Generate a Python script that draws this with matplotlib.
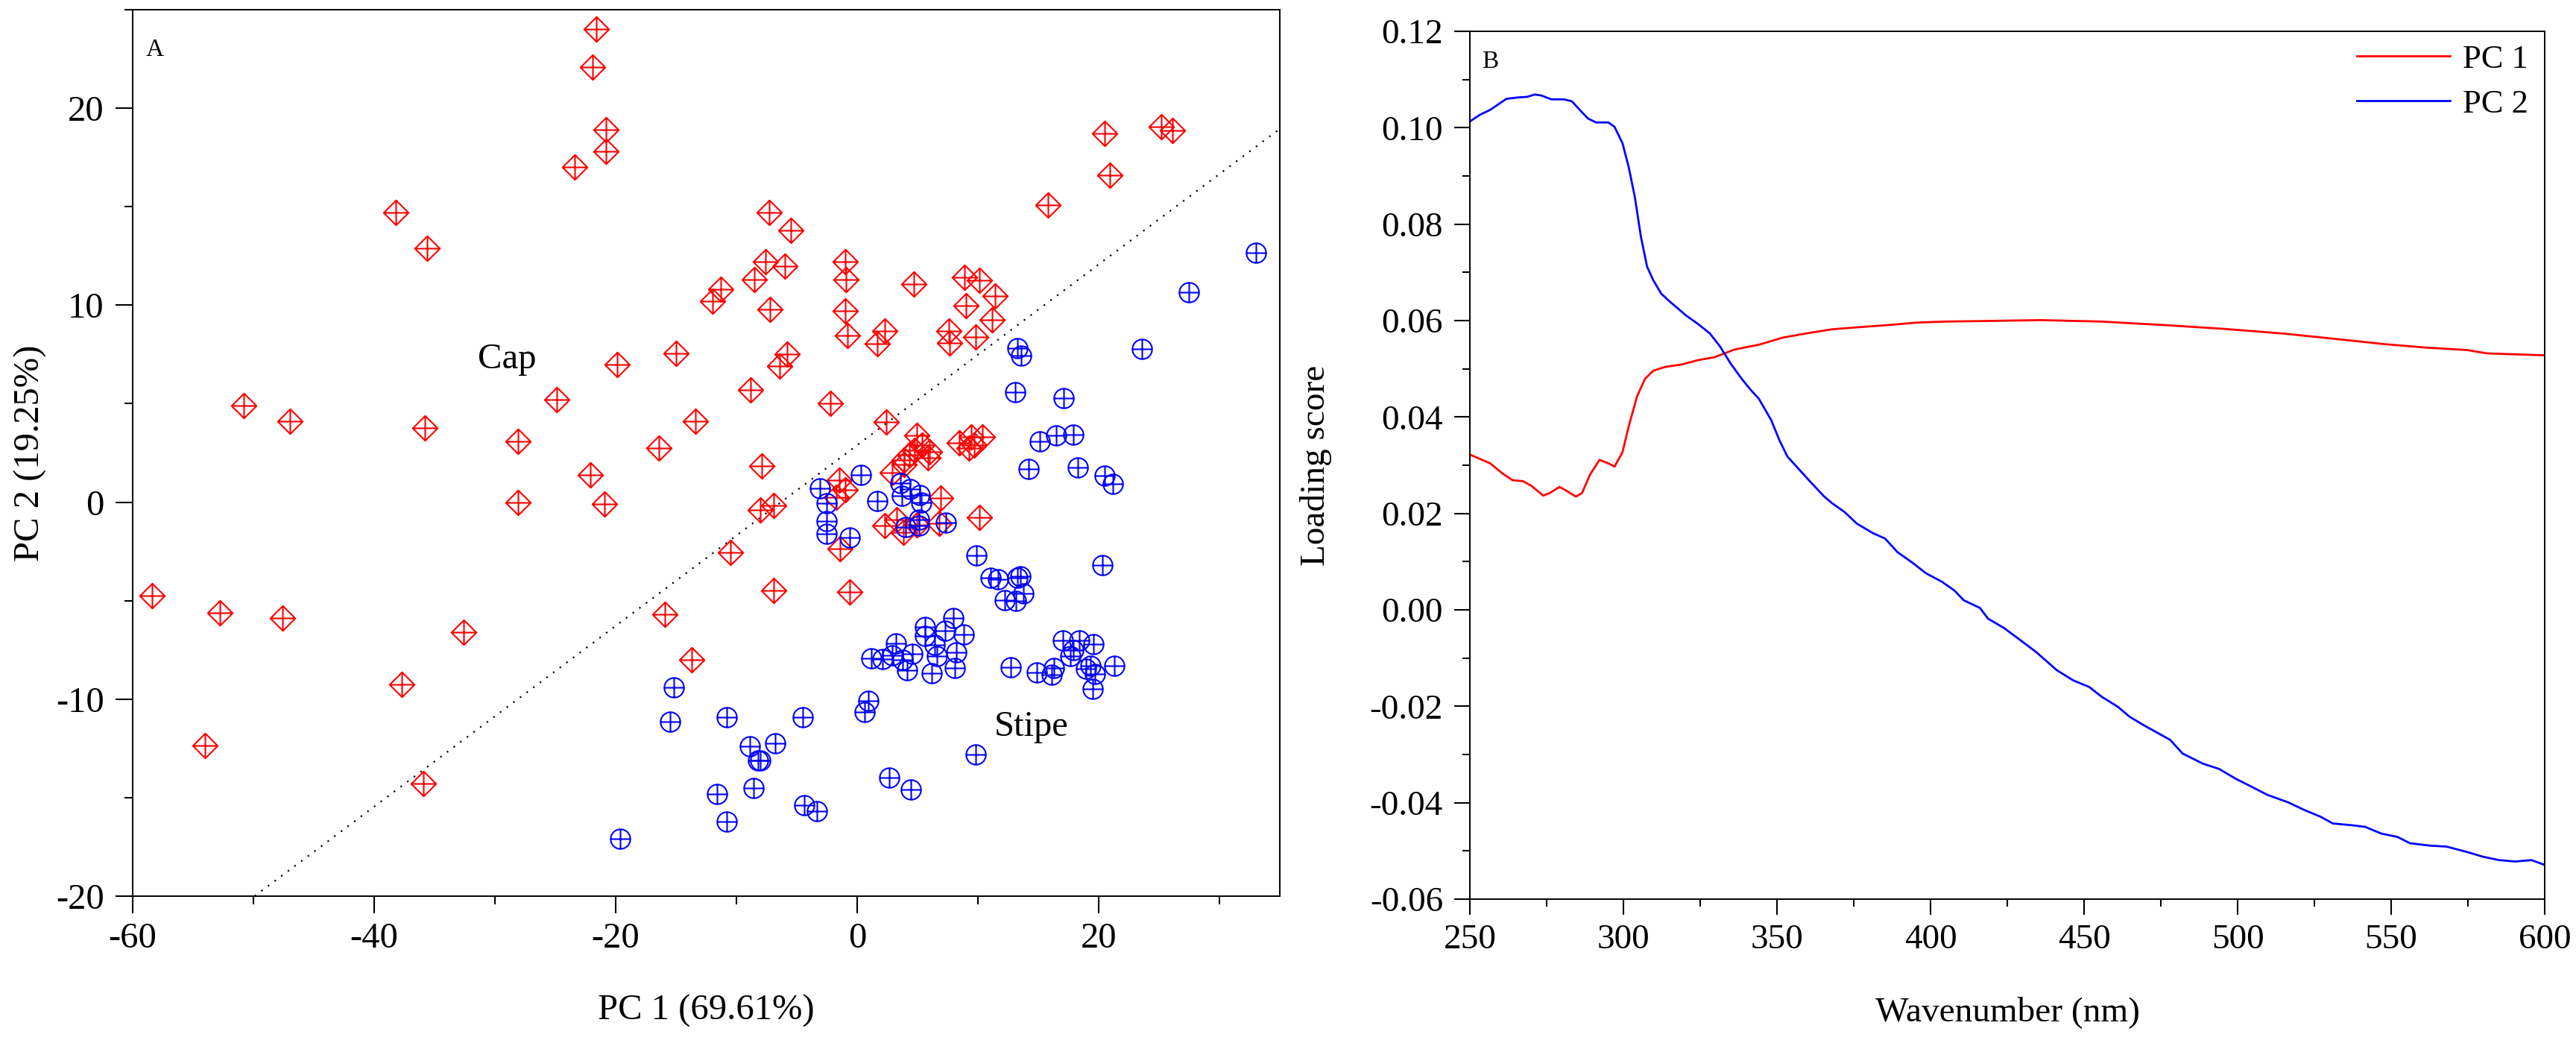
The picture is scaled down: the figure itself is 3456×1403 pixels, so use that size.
import numpy as np
import matplotlib
matplotlib.use('Agg')
import matplotlib.pyplot as plt
from matplotlib.path import Path
from matplotlib.ticker import MultipleLocator, FormatStrFormatter
from matplotlib.lines import Line2D

plt.rcParams['font.family'] = ['Liberation Serif', 'DejaVu Serif']
plt.rcParams['axes.unicode_minus'] = False

# ---------------- Panel A data (PCA scores) ----------------
cap_x = [-21.6, -21.9, -20.8, -20.8, -23.4, -38.2, -35.6, -50.8, -47.0, -35.8,
         -24.9, -28.1, -22.1, -28.1, -20.9, -7.3, -5.5, -7.6, -6.0, -1.0,
         -0.9, -11.3, -12.0, -8.5, -7.2, -1.0, -0.8, -5.8, -6.4, -15.0,
         -19.9, -8.8, -2.2, -13.4, -16.4, -7.9, -8.0, -6.9, -1.5, -1.0,
         -1.75, -1.4, -10.5, -6.9, -0.6, -15.9, -13.7, -58.4, -52.8, -47.6,
         -32.6, -37.7, -35.9, -54.0, 20.5, 25.2, 26.1, 20.9, 15.8, 4.7,
         8.9, 10.1, 11.4, 9.0, 11.2, 2.3, 1.67, 7.6, 7.65, 9.8,
         2.4, 4.94, 5.35, 5.97, 5.86, 4.73, 3.9, 4.3, 2.88, 3.9,
         8.44, 9.46, 10.4, 9.67, 9.26, 6.9, 10.1, 2.26, 3.3, 3.8,
         4.94, 6.8]
cap_y = [24.0, 22.1, 18.9, 17.8, 17.0, 14.7, 12.9, 4.9, 4.1, 3.76,
         5.2, 3.1, 1.4, 0.0, -0.1, 14.7, 13.8, 12.2, 12.0, 12.2,
         11.3, 10.8, 10.2, 11.3, 9.8, 9.7, 8.45, 7.5, 6.9, 7.55,
         7.0, 5.7, 5.0, 4.1, 2.75, 1.84, -0.38, -0.16, 1.1, 0.62,
         0.24, -2.36, -2.55, -4.5, -4.55, -5.7, -8.0, -4.76, -5.6, -5.9,
         -6.6, -9.25, -14.3, -12.36, 18.7, 19.05, 18.87, 16.6, 15.1, 11.06,
         11.4, 11.27, 10.47, 9.97, 9.25, 8.67, 8.03, 8.67, 8.1, 8.37,
         4.07, 3.39, 2.89, 2.57, 2.26, 2.63, 2.13, 2.4, 1.5, 1.9,
         3.0, 3.33, 3.33, 2.89, 2.76, 0.22, -0.78, -1.18, -0.9, -1.53,
         -1.15, -1.06]

stipe_x = [0.34, -3.1, -2.5, -2.55, -2.55, -0.6, 1.7, 3.6, 4.4, 3.7,
           5.2, 5.3, 5.1, 5.1, 4.0, 7.36, 14.2, 18.3, 20.5, 21.2,
           15.1, 16.5, 17.9, 13.1, 17.1, 13.3, 13.6, 23.6, 27.5, 33.0,
           9.9, 20.3, 11.07, 11.7, 13.3, 13.5, 13.75, 13.15, 12.2, 5.6,
           7.96, 7.3, 8.8, 5.6, 6.4, 8.2, 6.6, 3.2, 4.6, 1.2,
           2.1, 2.9, 3.75, 4.14, 6.2, 8.1, 12.7, 14.9, 16.1, 16.3,
           17.05, 18.4, 19.6, 17.9, 17.65, 21.3, 18.95, 19.3, 19.7, 19.5,
           0.94, 0.62, 9.8, 2.67, 4.43, -3.3, -4.4, -15.2, -15.5, -10.8,
           -4.5, -8.9, -6.8, -8.2, -8.0, -8.6, -11.6, -10.8, -19.6]
stipe_y = [1.4, 0.72, -0.04, -0.95, -1.6, -1.8, 0.07, 0.95, 0.66, 0.34,
           0.35, -0.02, -0.87, -1.2, -1.28, -1.05, 1.67, 1.78, 1.34, 0.92,
           3.1, 3.4, 3.44, 5.57, 5.3, 7.8, 7.43, 7.77, 10.67, 12.66,
           -2.72, -3.2, -3.83, -3.9, -3.85, -3.75, -4.64, -5.0, -4.98, -6.33,
           -5.9, -6.54, -6.73, -6.8, -7.26, -7.63, -7.83, -7.18, -7.7, -7.93,
           -7.98, -7.78, -8.0, -8.53, -8.68, -8.42, -8.4, -8.63, -8.75, -8.42,
           -7.03, -7.03, -7.22, -7.52, -7.83, -8.3, -8.45, -8.3, -8.72, -9.47,
           -10.07, -10.67, -12.8, -13.98, -14.6, -15.7, -15.4, -9.4, -11.15, -10.9,
           -10.9, -12.4, -12.25, -13.1, -13.1, -14.5, -14.8, -16.2, -17.1]

boundary_x = [-49.9, 35.0]
boundary_y = [-20.0, 18.95]

# ---------------- Panel B data (loadings) ----------------
pc1_wl = [250, 256.6, 260.6, 263.9, 267.2, 269.9, 273.9, 275.9, 279.2, 281.2,
          284.5, 286.5, 289.1, 292.2, 295.1, 297.1, 299.7, 301.7, 304.4, 307.0,
          309.7, 313.6, 319.0, 324.3, 329.6, 336.2, 344.1, 352.1, 360.1, 368.0,
          376.0, 386.6, 395.9, 405.0, 416.1, 435.9, 455.7, 475.5, 495.3, 515.1,
          534.9, 548.1, 561.4, 574.6, 581.2, 600]
pc1_val = [0.0322, 0.0304, 0.0283, 0.0269, 0.0267, 0.0258, 0.0237, 0.0242, 0.0255, 0.0248,
           0.0235, 0.0242, 0.0280, 0.0311, 0.0304, 0.0297, 0.0327, 0.0380, 0.0442, 0.0479,
           0.0496, 0.0504, 0.0509, 0.0518, 0.0524, 0.0540, 0.0550, 0.0565, 0.0574, 0.0582,
           0.0586, 0.0591, 0.0596, 0.0598, 0.0599, 0.0601, 0.0598, 0.0591, 0.0583, 0.0573,
           0.0560, 0.0551, 0.0544, 0.0539, 0.0532, 0.0528]

pc2_wl = [250, 253.3, 256.6, 261.9, 265.9, 268.6, 271.2, 273.2, 276.5, 280.5,
          283.2, 285.8, 288.5, 291.1, 295.1, 297.1, 299.7, 301.7, 303.7, 305.7,
          307.7, 309.7, 312.3, 315.0, 317.6, 320.3, 324.3, 328.2, 331.5, 334.9,
          338.8, 341.5, 344.1, 348.1, 350.8, 353.4, 357.4, 361.4, 365.4, 368.0,
          372.0, 376.0, 381.3, 385.2, 389.2, 394.5, 398.5, 403.8, 407.8, 410.8,
          416.1, 418.7, 424.0, 429.3, 434.5, 441.1, 446.4, 451.7, 455.7, 461.0,
          464.9, 470.2, 474.2, 478.1, 482.1, 488.7, 494.0, 499.3, 504.6, 509.8,
          516.4, 521.7, 527.0, 531.0, 537.6, 541.5, 546.8, 552.1, 556.1, 562.7,
          568.0, 574.6, 579.9, 585.1, 590.4, 595.7, 600]
pc2_val = [0.1013, 0.1027, 0.1037, 0.1060, 0.1063, 0.1064, 0.1069, 0.1067, 0.1059, 0.1059,
           0.1055, 0.1037, 0.1019, 0.1011, 0.1011, 0.1002, 0.0968, 0.0919, 0.0857, 0.0774,
           0.0712, 0.0684, 0.0656, 0.0640, 0.0626, 0.0611, 0.0593, 0.0573, 0.0546, 0.0511,
           0.0477, 0.0456, 0.0438, 0.0394, 0.0352, 0.0318, 0.0290, 0.0262, 0.0235, 0.0221,
           0.0203, 0.0179, 0.0159, 0.0148, 0.0120, 0.0096, 0.0076, 0.0058, 0.0040, 0.0020,
           0.0004, -0.0018, -0.0038, -0.0063, -0.0088, -0.0125, -0.0146, -0.0160, -0.0180, -0.0201,
           -0.0222, -0.0242, -0.0256, -0.0270, -0.0298, -0.0319, -0.0330, -0.0350, -0.0367, -0.0384,
           -0.0399, -0.0415, -0.0429, -0.0443, -0.0447, -0.0450, -0.0464, -0.0471, -0.0484, -0.0489,
           -0.0491, -0.0502, -0.0512, -0.0519, -0.0522, -0.0519, -0.0529]

# ---------------- Markers ----------------
M, L, C = Path.MOVETO, Path.LINETO, Path.CLOSEPOLY
diamond_plus = Path([(0, 1), (1, 0), (0, -1), (-1, 0), (0, 1),
                     (-1, 0), (1, 0), (0, -1), (0, 1)],
                    [M, L, L, L, C, M, L, M, L])
cross = Path([(-1, 0), (1, 0), (0, -1), (0, 1)], [M, L, M, L])
circle_plus = Path.make_compound_path(Path.unit_circle(), cross)

fig = plt.figure(figsize=(34.56, 14.03), dpi=100)

tick_kw = dict(direction='out', width=1.5, colors='black')

# ---------------- Panel A ----------------
axA = fig.add_axes([0.0515, 0.1433, 0.4453, 0.8474])
axA.plot(boundary_x, boundary_y, color='black', lw=1.6, linestyle=(0, (1, 4)))
axA.plot(cap_x, cap_y, linestyle='none', marker=diamond_plus, ms=24,
         mfc='none', mec='#ff0000', mew=1.5)
axA.plot(stipe_x, stipe_y, linestyle='none', marker=circle_plus, ms=19,
         mfc='none', mec='#0000ff', mew=1.5)
axA.set_xlim(-60, 35)
axA.set_ylim(-20, 25)
axA.xaxis.set_major_locator(MultipleLocator(20))
axA.xaxis.set_minor_locator(MultipleLocator(10))
axA.yaxis.set_major_locator(MultipleLocator(10))
axA.yaxis.set_minor_locator(MultipleLocator(5))
axA.tick_params(which='major', length=16.5, labelsize=35, **tick_kw)
axA.tick_params(which='minor', length=8, **tick_kw)
axA.tick_params(axis='x', which='major', pad=9)
axA.tick_params(axis='y', which='major', pad=11)
for s in axA.spines.values():
    s.set_linewidth(1.4)
axA.set_xlabel('PC 1 (69.61%)', fontsize=35)
axA.set_ylabel('PC 2 (19.25%)', fontsize=35)
axA.xaxis.set_label_coords(0.5, -0.111)
axA.yaxis.set_label_coords(-0.075, 0.5)
axA.text(-29, 6.8, 'Cap', fontsize=35, ha='center', va='baseline')
axA.text(14.45, -11.86, 'Stipe', fontsize=35, ha='center', va='baseline')
axA.text(0.0117, 0.968, 'A', transform=axA.transAxes, fontsize=24,
         ha='left', va='top')

# ---------------- Panel B ----------------
axB = fig.add_axes([0.5706, 0.1404, 0.41725, 0.82965])
axB.plot(pc1_wl, pc1_val, color='#ff0000', lw=2.0, label='PC 1')
axB.plot(pc2_wl, pc2_val, color='#0000ff', lw=2.0, label='PC 2')
axB.set_xlim(250, 600)
axB.set_ylim(-0.06, 0.12)
axB.xaxis.set_major_locator(MultipleLocator(50))
axB.xaxis.set_minor_locator(MultipleLocator(25))
axB.yaxis.set_major_locator(MultipleLocator(0.02))
axB.yaxis.set_minor_locator(MultipleLocator(0.01))
axB.yaxis.set_major_formatter(FormatStrFormatter('%.2f'))
axB.tick_params(which='major', length=15, labelsize=34, **tick_kw)
axB.tick_params(which='minor', length=7.5, **tick_kw)
axB.tick_params(axis='x', which='major', pad=9)
axB.tick_params(axis='y', which='major', pad=11)
for s in axB.spines.values():
    s.set_linewidth(1.4)
axB.set_xlabel('Wavenumber (nm)', fontsize=34)
axB.set_ylabel('Loading score', fontsize=34)
axB.xaxis.set_label_coords(0.5, -0.112)
axB.yaxis.set_label_coords(-0.128, 0.5)
axB.text(0.011, 0.9785, 'B', transform=axB.transAxes, fontsize=24,
         ha='left', va='top')
axB.legend(loc='upper right', bbox_to_anchor=(0.985, 0.985), frameon=False,
           fontsize=32, handlelength=2.8, handletextpad=0.4, labelspacing=0.45,
           borderaxespad=0, borderpad=0)

fig.savefig('out.png', dpi=100)
